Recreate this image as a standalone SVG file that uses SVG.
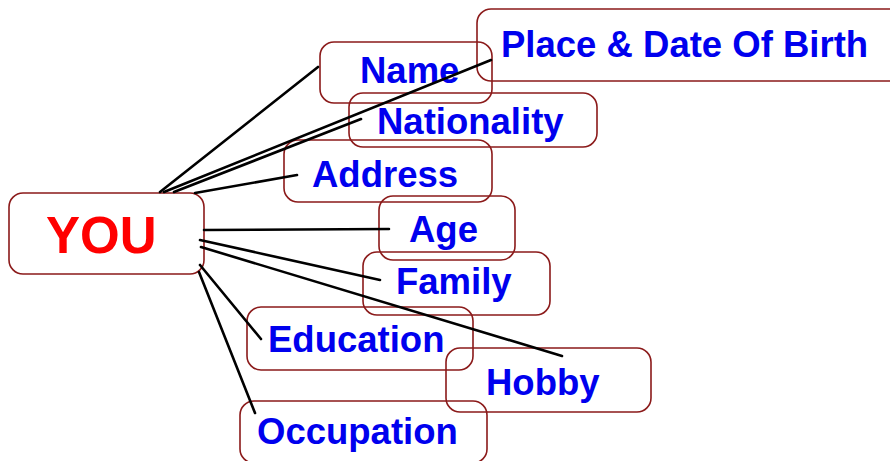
<svg xmlns="http://www.w3.org/2000/svg" width="890" height="461" viewBox="0 0 890 461">
<style>
.box{fill:none;stroke:#8b1a1a;stroke-width:1.6}
.lbl{font-family:"Liberation Sans",Arial,sans-serif;font-weight:bold;font-size:36.5px;fill:#0000ee}
.you{font-family:"Liberation Sans",Arial,sans-serif;font-weight:bold;font-size:51px;fill:#ff0000}
.ln{stroke:#000;stroke-width:2.6;stroke-linecap:round;fill:none}
</style>
<rect width="890" height="461" fill="#fff"/>
<g id="you"><rect class="box" x="9" y="193" width="195" height="81" rx="14"/><text class="you" x="46" y="253">YOU</text></g>
<g id="place"><rect class="box" x="477" y="9" width="432" height="72" rx="14"/><text class="lbl" x="501" y="57">Place &amp; Date Of Birth</text></g>
<g id="name"><rect class="box" x="320" y="42" width="172" height="61" rx="14"/><text class="lbl" x="360" y="83">Name</text></g>
<g id="nationality"><rect class="box" x="349" y="93" width="248" height="54" rx="14"/><text class="lbl" x="377" y="134">Nationality</text></g>
<g id="address"><rect class="box" x="284" y="140" width="208" height="62" rx="14"/><text class="lbl" x="312" y="187">Address</text></g>
<g id="age"><rect class="box" x="379" y="196" width="136" height="64" rx="14"/><text class="lbl" x="409" y="242">Age</text></g>
<g id="family"><rect class="box" x="363" y="252" width="187" height="63" rx="14"/><text class="lbl" x="396" y="294">Family</text></g>
<g id="education"><rect class="box" x="247" y="307" width="226" height="63" rx="14"/><text class="lbl" x="268" y="352">Education</text></g>
<g id="hobby"><rect class="box" x="446" y="348" width="205" height="64" rx="14"/><text class="lbl" x="486" y="395">Hobby</text></g>
<g id="occupation"><rect class="box" x="240" y="401" width="247" height="62" rx="14"/><text class="lbl" x="257" y="444">Occupation</text></g>
<g id="connectors">
<line class="ln" x1="160" y1="192" x2="318" y2="67"/>
<line class="ln" x1="164" y1="192" x2="491" y2="60"/>
<line class="ln" x1="174" y1="192" x2="361" y2="119"/>
<line class="ln" x1="195" y1="193" x2="297" y2="175"/>
<line class="ln" x1="204" y1="230" x2="389" y2="229"/>
<line class="ln" x1="200" y1="240" x2="380" y2="280"/>
<line class="ln" x1="201" y1="247" x2="562" y2="356"/>
<line class="ln" x1="200" y1="265" x2="261" y2="339"/>
<line class="ln" x1="199" y1="272" x2="255" y2="413"/>
</g>
</svg>
